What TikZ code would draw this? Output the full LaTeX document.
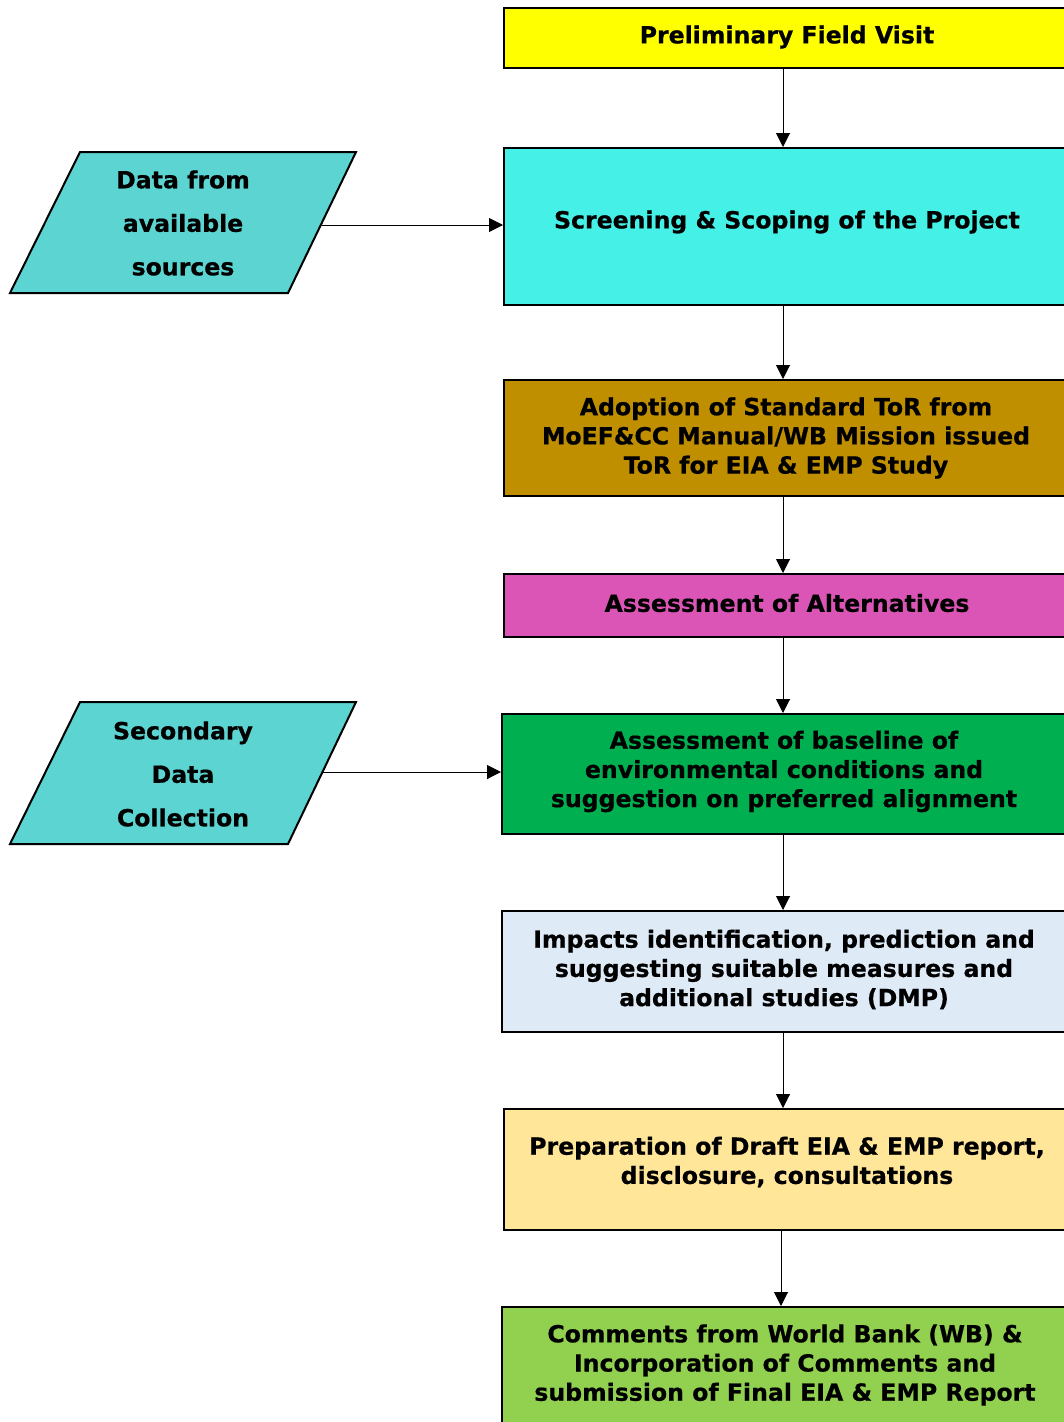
\documentclass[tikz,border=0pt]{standalone}
\usepackage{fontspec}
\setmainfont{DejaVu Sans}[BoldFeatures={FakeBold=0.6}]
\usetikzlibrary{arrows.meta}
\definecolor{cYellow}{HTML}{FFFF00}
\definecolor{cCyan}{HTML}{45F0E6}
\definecolor{cGold}{HTML}{BF8F00}
\definecolor{cMag}{HTML}{DA55B5}
\definecolor{cGreen}{HTML}{00B050}
\definecolor{cLBlue}{HTML}{DEEAF6}
\definecolor{cLYellow}{HTML}{FFE699}
\definecolor{cLGreen}{HTML}{92D050}
\definecolor{cPara}{HTML}{5CD5D2}
\tikzset{
  stepbox/.style={draw=black, line width=2pt, inner sep=0pt, minimum width=568pt, anchor=west},
  txt/.style={font=\fontsize{23.6}{29.2}\selectfont\bfseries, align=center, inner sep=0pt},
  ptxt/.style={font=\fontsize{23.6}{43.5}\selectfont\bfseries, align=center, inner sep=0pt},
  para/.style={draw=black, line width=2pt, fill=cPara, line join=miter},
  conn/.style={line width=1pt, -{Triangle[width=14pt,length=14pt]}}
}
\begin{document}
\begin{tikzpicture}[x=1pt,y=-1pt]
\clip (0,0) rectangle (1064,1422);
\fill[white] (0,0) rectangle (1064,1422);
% boxes
\node[stepbox, fill=cYellow, minimum height=60pt] (b1) at (503,38) {};
\node[stepbox, fill=cCyan, minimum height=157pt] (b2) at (503,226.5) {};
\node[stepbox, fill=cGold, minimum height=116pt] (b3) at (503,438) {};
\node[stepbox, fill=cMag, minimum height=63pt] (b4) at (503,605.5) {};
\node[stepbox, fill=cGreen, minimum height=120pt] (b5) at (501,774) {};
\node[stepbox, fill=cLBlue, minimum height=121pt] (b6) at (501,971.5) {};
\node[stepbox, fill=cLYellow, minimum height=121pt] (b7) at (503,1169.5) {};
\node[stepbox, fill=cLGreen, minimum height=130pt] (b8) at (501,1372) {};
% texts
\node[txt] (t1) at (787,37) {Preliminary Field Visit};
\node[txt] (t2) at (787,222) {Screening \& Scoping of the Project};
\node[txt] (t3) at (786,438) {Adoption of Standard ToR from\\MoEF\&CC Manual/WB Mission issued\\ToR for EIA \& EMP Study};
\node[txt] (t4) at (787,603) {Assessment of Alternatives};
\node[txt] (t5) at (784,771.5) {Assessment of baseline of\\environmental conditions and\\suggestion on preferred alignment};
\node[txt] (t6) at (784,969.5) {Impacts identification, prediction and\\suggesting suitable measures and\\additional studies (DMP)};
\node[txt] (t7) at (787,1162) {Preparation of Draft EIA \& EMP report,\\disclosure, consultations};
\node[txt] (t8) at (785,1365) {Comments from World Bank (WB) \&\\Incorporation of Comments and\\submission of Final EIA \& EMP Report};
% parallelograms
\draw[para] (80,152) -- (356,152) -- (288,293) -- (10,293) -- cycle;
\node[ptxt] (d1) at (183,223) {Data from\\available\\sources};
\coordinate (d1e) at (322,225);
\draw[para] (80,702) -- (356,702) -- (288,844) -- (10,844) -- cycle;
\node[ptxt] (d2) at (183,774) {Secondary\\Data\\Collection};
\coordinate (d2e) at (322,772);
% connectors
\coordinate (ax) at (783,0);
\coordinate (ax2) at (781,0);
\draw[conn] (b1.south -| ax) -- (b2.north -| ax);
\draw[conn] (b2.south -| ax) -- (b3.north -| ax);
\draw[conn] (b3.south -| ax) -- (b4.north -| ax);
\draw[conn] (b4.south -| ax) -- (b5.north -| ax);
\draw[conn] (b5.south -| ax) -- (b6.north -| ax);
\draw[conn] (b6.south -| ax) -- (b7.north -| ax);
\draw[conn] (b7.south -| ax2) -- (b8.north -| ax2);
\draw[conn] (d1e) -- (d1e -| b2.west);
\draw[conn] (d2e) -- (d2e -| b5.west);
\end{tikzpicture}
\end{document}
